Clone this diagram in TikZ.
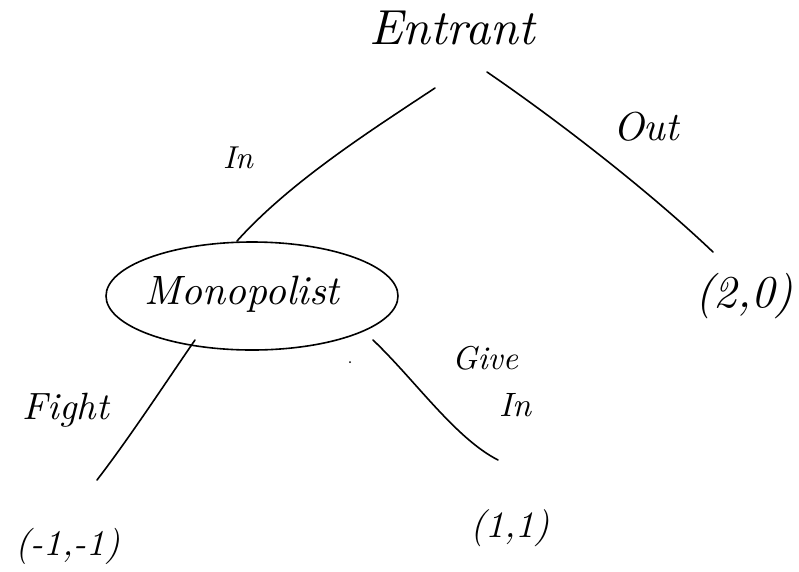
\documentclass[tikz,border=0pt]{standalone}
\usetikzlibrary{shapes.geometric}
\newcommand{\hw}[2]{\resizebox{#1pt}{!}{\itshape #2}}
\begin{document}
\begin{tikzpicture}[x=1pt,y=-1pt,
  pen/.style={line width=1.6pt,line cap=round,black},
  lbl/.style={inner sep=0pt,anchor=center}]
\useasboundingbox (0,0) rectangle (799,571);
\node[lbl] (entrant) at (452,28) {\hw{165}{Entrant}};
\node[pen,draw,ellipse,minimum width=292pt,minimum height=108pt,inner sep=0pt] (mono) at (252,296) {};
\node[lbl] (monotext) at (242,294) {\hw{195}{Monopolist}};
\node[lbl] (out) at (744,296) {\hw{98}{(2,0)}};
\node[lbl] (ff) at (68,546) {\hw{104}{(-1,-1)}};
\node[lbl] (gi) at (510,528) {\hw{80}{(1,1)}};
% edge endpoints
\coordinate (inA) at (435,88);
\coordinate (inB) at (237,241);
\coordinate (outA) at (487,72);
\coordinate (outB) at (713,252);
\coordinate (fA) at (195,340);
\coordinate (fB) at (97,480);
\coordinate (gA) at (373,340);
\coordinate (gB) at (498,460);
\draw[pen] (inA) .. controls (370,131) and (290,182) .. (inB);
\draw[pen] (outA) .. controls (560,122) and (650,192) .. (outB);
\draw[pen] (fA) .. controls (164,385) and (130,437) .. (fB);
\draw[pen] (gA) .. controls (415,380) and (455,438) .. (gB);
% labels
\node[lbl] (lin) at (238,158) {\hw{30}{In}};
\node[lbl] (lout) at (646,127) {\hw{66}{Out}};
\node[lbl] (lfight) at (66,410) {\hw{86}{Fight}};
\node[lbl] (lgive) at (485,358) {\hw{66}{Give}};
\node[lbl] (lgivein) at (515,405) {\hw{32}{In}};
\fill (350,362) circle (1pt);
\end{tikzpicture}
\end{document}
